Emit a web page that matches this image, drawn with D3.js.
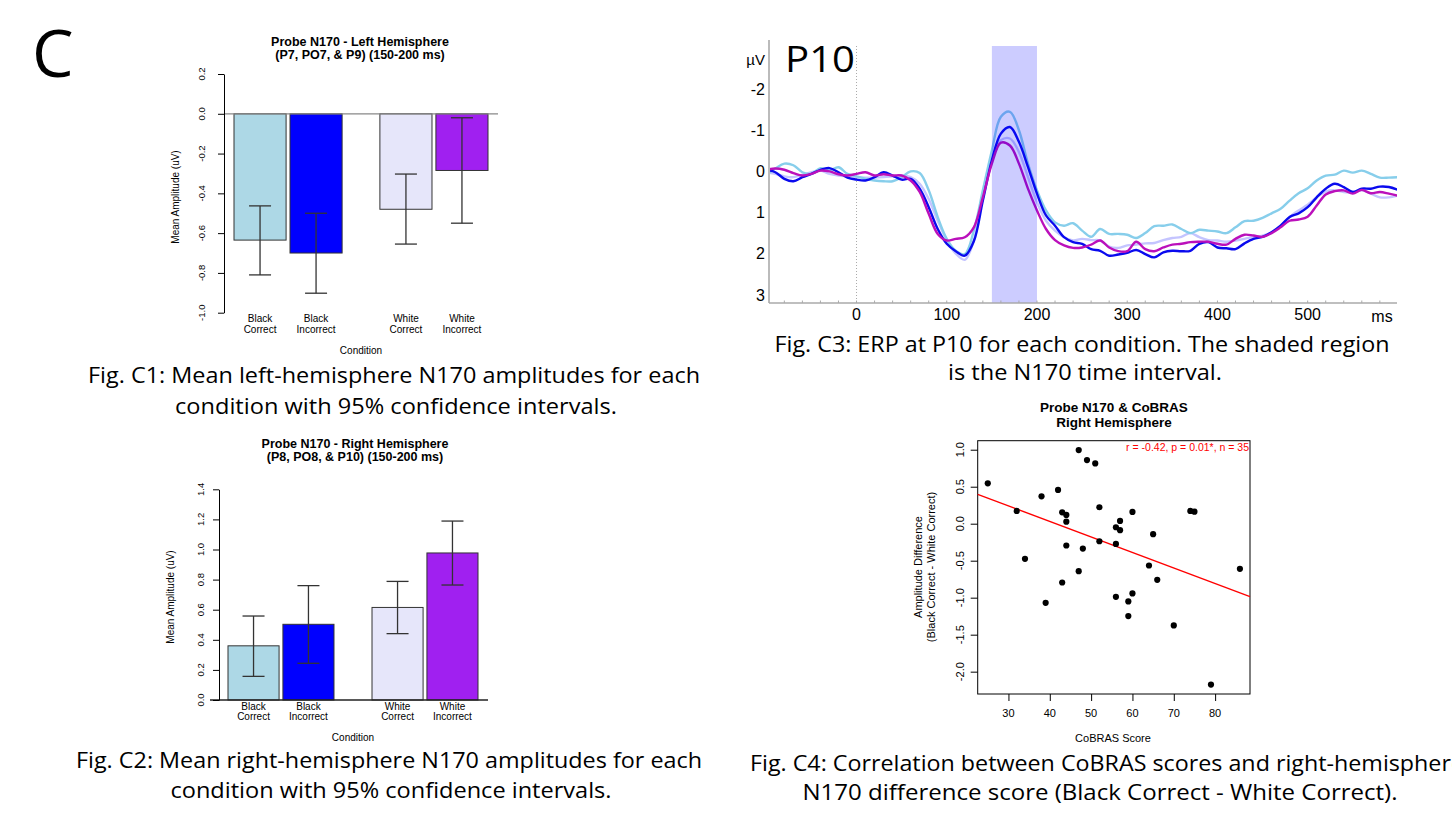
<!DOCTYPE html>
<html>
<head>
<meta charset="utf-8">
<script src="https://cdn.jsdelivr.net/npm/d3@7"></script>
<style>
  body { margin: 0; background: #fff; overflow: hidden; }
  svg { display: block; }
</style>
</head>
<body>
<svg id="fig" width="1452" height="814"></svg>
<script>
// ---- data ----
const conditions = ["Black Correct", "Black Incorrect", "White Correct", "White Incorrect"];
const groups = ["Black", "White"];
const subs = ["Correct", "Incorrect"];
const barColors = ["#ADD8E6", "#0000FF", "#E6E6FA", "#A020F0"];

// C1: left hemisphere
const leftMeans = [-0.635, -0.700, -0.480, -0.285];
const leftLower = [-0.810, -0.902, -0.655, -0.550];
const leftUpper = [-0.463, -0.500, -0.303, -0.020];
const leftTicks = [0.2, 0.0, -0.2, -0.4, -0.6, -0.8, -1.0];

// C2: right hemisphere
const rightMeans = [0.360, 0.503, 0.615, 0.977];
const rightLower = [0.157, 0.244, 0.441, 0.764];
const rightUpper = [0.558, 0.760, 0.788, 1.189];
const rightTicks = [0.0, 0.2, 0.4, 0.6, 0.8, 1.0, 1.2, 1.4];

// C3: ERP at P10, sampled every 10 ms from -100 to 600
const erpTimes = d3.range(-100, 601, 10);
const erpBC = [0.08, -0.07, -0.19, -0.15, 0.02, 0.06, -0.08, -0.02, -0.10, 0.06,
  0.12, 0.18, 0.22, 0.24, 0.24, 0.14, 0.00, 0.04, 0.46, 1.11,
  1.64, 1.93, 2.01, 1.44, 0.46, -0.51, -1.33, -1.45, -1.00, -0.19,
  0.46, 0.95, 1.24, 1.32, 1.26, 1.44, 1.59, 1.40, 1.52, 1.52,
  1.54, 1.62, 1.50, 1.33, 1.32, 1.29, 1.40, 1.50, 1.42, 1.44,
  1.46, 1.50, 1.36, 1.21, 1.20, 1.13, 1.02, 0.91, 0.71, 0.53,
  0.41, 0.22, 0.10, 0.08, -0.02, 0.03, -0.02, 0.06, 0.15, 0.15, 0.14];
const erpBI = [-0.04, 0.02, 0.18, 0.24, 0.14, 0.06, -0.04, -0.08, 0.02, 0.15,
  0.20, 0.22, 0.14, 0.02, 0.10, 0.20, 0.18, 0.42, 0.87, 1.40,
  1.76, 1.94, 2.05, 1.70, 0.71, -0.27, -0.92, -1.08, -0.72, -0.11,
  0.54, 1.07, 1.32, 1.60, 1.72, 1.76, 1.89, 1.93, 2.05, 2.02,
  1.98, 1.91, 2.01, 2.09, 1.97, 1.93, 1.94, 1.93, 1.76, 1.72,
  1.85, 1.87, 1.89, 1.75, 1.64, 1.59, 1.48, 1.32, 1.11, 1.02,
  0.87, 0.63, 0.42, 0.30, 0.38, 0.50, 0.42, 0.42, 0.37, 0.38, 0.45];
const erpWC = [0.02, 0.06, 0.12, 0.14, 0.08, 0.02, -0.02, 0.06, 0.10, 0.12,
  0.14, 0.15, 0.15, 0.14, 0.12, 0.10, 0.14, 0.30, 0.67, 1.20,
  1.67, 2.00, 2.15, 1.68, 0.63, -0.31, -0.76, -0.80, -0.47, 0.14,
  0.75, 1.20, 1.44, 1.60, 1.68, 1.64, 1.67, 1.68, 1.83, 1.86,
  1.80, 1.78, 1.75, 1.74, 1.67, 1.62, 1.59, 1.50, 1.60, 1.67,
  1.68, 1.71, 1.68, 1.64, 1.59, 1.56, 1.48, 1.32, 1.11, 0.95,
  0.81, 0.63, 0.49, 0.46, 0.50, 0.50, 0.46, 0.54, 0.63, 0.63, 0.59];
const erpWI = [-0.04, -0.07, -0.04, 0.04, 0.10, 0.06, -0.02, 0.00, 0.07, 0.10,
  0.06, 0.02, 0.10, 0.07, 0.10, 0.10, 0.22, 0.50, 1.03, 1.52,
  1.68, 1.64, 1.60, 1.36, 0.63, -0.19, -0.70, -0.63, -0.19, 0.42,
  0.95, 1.40, 1.67, 1.80, 1.86, 1.85, 1.78, 1.68, 1.85, 1.94,
  1.94, 1.71, 1.89, 1.94, 1.85, 1.78, 1.76, 1.72, 1.71, 1.71,
  1.76, 1.78, 1.64, 1.54, 1.56, 1.59, 1.50, 1.36, 1.20, 1.17,
  1.10, 0.83, 0.56, 0.48, 0.46, 0.54, 0.45, 0.53, 0.50, 0.54, 0.59];
const erpColors = ["#87CEEB", "#0A0AEE", "#C4C4FF", "#BB10BB"];
const erpXTicks = [0, 100, 200, 300, 400, 500];
const erpYTicks = [-2, -1, 0, 1, 2, 3];
const n170Window = [150, 200];

// C4: CoBRAS vs amplitude difference
const cobras = [25, 32, 34, 38, 39, 42, 43, 44, 44, 44, 43, 47, 49, 51, 48, 47, 52, 52,
  56, 56, 57, 57, 56, 60, 60, 59, 59, 64, 65, 66, 70, 74, 75, 79, 86];
const ampDiff = [0.546, 0.172, -0.475, 0.370, -1.070, 0.456, 0.154, 0.118, 0.028, -0.295,
  -0.795, 0.995, 0.860, 0.815, -0.336, -0.642, 0.222, -0.237, -0.048, -0.273,
  0.037, -0.088, -0.988, 0.159, -0.943, -1.050, -1.249, -0.565, -0.142, -0.759,
  -1.375, 0.172, 0.163, -2.175, -0.610];
const scatterXTicks = [30, 40, 50, 60, 70, 80];
const scatterYTicks = [1.0, 0.5, 0.0, -0.5, -1.0, -1.5, -2.0];

const svg = d3.select("#fig");
const rfont = "'Liberation Sans', Arial, sans-serif";
const cfont = "'Open Sans', 'Noto Sans', sans-serif";
const fmt1 = d => d.toFixed(1);

// rotated text helper (reads bottom-to-top)
function vtext(x, y, str, size) {
  return svg.append("text")
    .attr("transform", `translate(${x},${y}) rotate(-90)`)
    .attr("text-anchor", "middle")
    .style("font-family", rfont)
    .style("font-size", size + "px")
    .text(str);
}

function caption(lines) {
  lines.forEach(l => {
    svg.append("text")
      .attr("x", l.x).attr("y", l.y)
      .attr("text-anchor", l.anchor || "middle")
      .attr("textLength", l.w)
      .attr("lengthAdjust", "spacingAndGlyphs")
      .style("font-family", cfont)
      .style("font-size", "21.5px")
      .text(l.t);
  });
}

// ---- bar charts (C1, C2) ----
function barChart(cfg) {
  const g = svg.append("g");
  const y = d3.scaleLinear().domain(cfg.yDomain).range(cfg.yRange);
  const x0 = d3.scaleBand().domain(groups).range(cfg.xRange).paddingInner(cfg.groupPad);
  const x1 = d3.scaleBand().domain(subs).range([0, x0.bandwidth()]).paddingInner(0.07);
  const rows = conditions.map((c, i) => ({
    group: c.split(" ")[0], sub: c.split(" ")[1], label: c,
    mean: cfg.means[i], lo: cfg.lower[i], hi: cfg.upper[i], color: barColors[i]
  }));
  const xl = d => x0(d.group) + x1(d.sub);
  const xm = d => xl(d) + x1.bandwidth() / 2;

  g.selectAll("rect.bar").data(rows).enter().append("rect")
    .attr("class", "bar")
    .attr("x", xl)
    .attr("width", x1.bandwidth())
    .attr("y", d => Math.min(y(0), y(d.mean)))
    .attr("height", d => Math.abs(y(d.mean) - y(0)))
    .attr("fill", d => d.color)
    .attr("stroke", "#333")
    .attr("stroke-width", 1);

  g.append("line")
    .attr("x1", cfg.zeroLine[0]).attr("x2", cfg.zeroLine[1])
    .attr("y1", y(0)).attr("y2", y(0))
    .attr("stroke", cfg.zeroColor).attr("stroke-width", 1.3);

  const eb = g.selectAll("g.err").data(rows).enter().append("g")
    .attr("stroke", "#333").attr("stroke-width", 1.3);
  eb.append("line").attr("x1", xm).attr("x2", xm)
    .attr("y1", d => y(d.lo)).attr("y2", d => y(d.hi));
  eb.append("line").attr("x1", d => xm(d) - 11).attr("x2", d => xm(d) + 11)
    .attr("y1", d => y(d.lo)).attr("y2", d => y(d.lo));
  eb.append("line").attr("x1", d => xm(d) - 11).attr("x2", d => xm(d) + 11)
    .attr("y1", d => y(d.hi)).attr("y2", d => y(d.hi));

  const ax = g.append("g")
    .attr("transform", `translate(${cfg.axisX},0)`)
    .call(d3.axisLeft(y).tickValues(cfg.ticks).tickSize(6).tickSizeOuter(0).tickFormat(""));
  ax.selectAll("path, line").attr("stroke", "#000");
  cfg.ticks.forEach(t => vtext(cfg.tickLabelX, y(t), fmt1(t), 9.5));

  rows.forEach(d => {
    const parts = d.label.split(" ");
    parts.forEach((p, j) => {
      g.append("text")
        .attr("x", xm(d)).attr("y", cfg.catY + j * 10.5)
        .attr("text-anchor", "middle")
        .style("font-family", rfont).style("font-size", "10px")
        .text(p);
    });
  });

  const cx = (cfg.xRange[0] + cfg.xRange[1]) / 2;
  g.append("text").attr("x", cx).attr("y", cfg.condY)
    .attr("text-anchor", "middle")
    .style("font-family", rfont).style("font-size", "10px")
    .text("Condition");

  cfg.title.forEach((t, j) => {
    g.append("text").attr("x", cfg.titleX).attr("y", cfg.titleY + j * 12.5)
      .attr("text-anchor", "middle")
      .style("font-family", rfont).style("font-size", "12.5px").style("font-weight", "bold")
      .text(t);
  });
  vtext(cfg.yLabelX, cfg.yLabelY, "Mean Amplitude (uV)", 10);
}

barChart({
  means: leftMeans, lower: leftLower, upper: leftUpper, ticks: leftTicks,
  yDomain: [-1.0, 0.2], yRange: [312.7, 74],
  xRange: [234, 488], groupPad: 0.259,
  zeroLine: [224, 498], zeroColor: "#888",
  axisX: 224, tickLabelX: 205, catY: 322, condY: 354,
  title: ["Probe N170 - Left Hemisphere", "(P7, PO7, & P9) (150-200 ms)"],
  titleX: 360, titleY: 46,
  yLabelX: 179, yLabelY: 197
});

barChart({
  means: rightMeans, lower: rightLower, upper: rightUpper, ticks: rightTicks,
  yDomain: [0, 1.4], yRange: [700, 489.3],
  xRange: [228, 478], groupPad: 0.264,
  zeroLine: [210, 488], zeroColor: "#222",
  axisX: 219, tickLabelX: 204, catY: 709.5, condY: 741,
  title: ["Probe N170 - Right Hemisphere", "(P8, PO8, & P10) (150-200 ms)"],
  titleX: 355, titleY: 448,
  yLabelX: 174, yLabelY: 597
});

// ---- ERP (C3) ----
(function () {
  const left = 769, right = 1397, top = 46, bottom = 303;
  const x = d3.scaleLinear().domain([-97, 599]).range([left, right]);
  const y = d3.scaleLinear().domain([-3.05, 3.2]).range([top, bottom]);
  const g = svg.append("g");

  svg.append("clipPath").attr("id", "erpClip").append("rect")
    .attr("x", left).attr("y", top - 10).attr("width", right - left).attr("height", bottom - top + 10);

  // zero-time dotted line
  g.append("line").attr("x1", x(0)).attr("x2", x(0)).attr("y1", top).attr("y2", bottom)
    .attr("stroke", "#aaa").attr("stroke-dasharray", "1,2");

  const series = [erpWC, erpBC, erpBI, erpWI];
  const cols = [erpColors[2], erpColors[0], erpColors[1], erpColors[3]];
  const line = d3.line().x((d, i) => x(erpTimes[i])).y(d => y(d)).curve(d3.curveCatmullRom.alpha(0.5));
  const lg = g.append("g").attr("clip-path", "url(#erpClip)");
  series.forEach((s, k) => {
    lg.append("path").datum(s).attr("d", line)
      .attr("fill", "none").attr("stroke", cols[k]).attr("stroke-width", 2.4)
      .attr("stroke-linejoin", "round");
  });

  // N170 window shading
  g.append("rect")
    .attr("x", x(n170Window[0])).attr("width", x(n170Window[1]) - x(n170Window[0]))
    .attr("y", top).attr("height", bottom - top)
    .attr("fill", "rgba(0,0,255,0.2)");

  // axes
  g.append("line").attr("x1", left).attr("x2", left).attr("y1", 40).attr("y2", bottom)
    .attr("stroke", "#bbb").attr("stroke-width", 2);
  g.append("line").attr("x1", left).attr("x2", right).attr("y1", bottom).attr("y2", bottom)
    .attr("stroke", "#aaa").attr("stroke-width", 1.5);
  g.selectAll("line.minor").data(d3.range(-80, 600, 20)).enter().append("line")
    .attr("x1", d => x(d)).attr("x2", d => x(d)).attr("y1", bottom).attr("y2", bottom - 2.5)
    .attr("stroke", "#aaa");

  g.selectAll("text.xt").data(erpXTicks).enter().append("text")
    .attr("x", d => x(d)).attr("y", 320).attr("text-anchor", "middle")
    .style("font-family", rfont).style("font-size", "16px").text(d => d);
  g.selectAll("text.yt").data(erpYTicks).enter().append("text")
    .attr("x", 765).attr("y", d => y(d)).attr("dy", "0.36em").attr("text-anchor", "end")
    .style("font-family", rfont).style("font-size", "16px").text(d => d);
  g.append("text").attr("x", 1382).attr("y", 322).attr("text-anchor", "middle")
    .style("font-family", rfont).style("font-size", "16px").text("ms");
  g.append("text").attr("x", 765).attr("y", 65).attr("text-anchor", "end")
    .style("font-family", rfont).style("font-size", "15px").text("µV");
  g.append("text").attr("x", 785).attr("y", 72)
    .attr("textLength", 70).attr("lengthAdjust", "spacingAndGlyphs")
    .style("font-family", cfont).style("font-size", "36px").text("P10");
})();

// ---- scatter (C4) ----
(function () {
  const left = 977.7, right = 1250, top = 440.7, bottom = 694;
  const ext = (a) => { const e = d3.extent(a), p = (e[1] - e[0]) * 0.04; return [e[0] - p, e[1] + p]; };
  const x = d3.scaleLinear().domain(ext(cobras)).range([left, right]);
  const y = d3.scaleLinear().domain(ext(ampDiff)).range([bottom, top]);
  const g = svg.append("g");

  g.append("rect").attr("x", left).attr("y", top).attr("width", right - left).attr("height", bottom - top)
    .attr("fill", "none").attr("stroke", "#000").attr("stroke-width", 1);

  g.append("g").attr("transform", `translate(0,${bottom})`)
    .call(d3.axisBottom(x).tickValues(scatterXTicks).tickSize(7).tickSizeOuter(0).tickFormat(""))
    .call(a => a.select(".domain").remove());
  g.append("g").attr("transform", `translate(${left},0)`)
    .call(d3.axisLeft(y).tickValues(scatterYTicks).tickSize(7).tickSizeOuter(0).tickFormat(""))
    .call(a => a.select(".domain").remove());

  g.selectAll("text.xt").data(scatterXTicks).enter().append("text")
    .attr("x", d => x(d)).attr("y", 717).attr("text-anchor", "middle")
    .style("font-family", rfont).style("font-size", "11px").text(d => d);
  scatterYTicks.forEach(t => vtext(963.5, y(t), fmt1(t), 11));

  // least-squares fit
  const mx = d3.mean(cobras), my = d3.mean(ampDiff);
  const b = d3.sum(cobras, (v, i) => (v - mx) * (ampDiff[i] - my)) / d3.sum(cobras, v => (v - mx) ** 2);
  const a0 = my - b * mx;
  const [dx0, dx1] = x.domain();
  g.append("line").attr("x1", x(dx0)).attr("x2", x(dx1))
    .attr("y1", y(a0 + b * dx0)).attr("y2", y(a0 + b * dx1))
    .attr("stroke", "#FF0000").attr("stroke-width", 1.3);

  g.selectAll("circle").data(cobras).enter().append("circle")
    .attr("cx", d => x(d)).attr("cy", (d, i) => y(ampDiff[i])).attr("r", 3.1).attr("fill", "#000");

  g.append("text").attr("x", 1249).attr("y", 451).attr("text-anchor", "end")
    .attr("fill", "#FF0000")
    .style("font-family", rfont).style("font-size", "10.5px")
    .text("r = -0.42, p = 0.01*, n = 35");

  ["Probe N170 & CoBRAS", "Right Hemisphere"].forEach((t, j) => {
    g.append("text").attr("x", 1114).attr("y", 412 + j * 14.7).attr("text-anchor", "middle")
      .style("font-family", rfont).style("font-size", "13.5px").style("font-weight", "bold").text(t);
  });
  g.append("text").attr("x", 1113).attr("y", 742).attr("text-anchor", "middle")
    .style("font-family", rfont).style("font-size", "11px").text("CoBRAS Score");
  vtext(921.5, 567, "Amplitude Difference", 11);
  vtext(935, 567, "(Black Correct - White Correct)", 11);
})();

// ---- panel letter and captions ----
svg.append("text").attr("x", 32).attr("y", 77)
  .style("font-family", cfont).style("font-size", "66px").text("C");

caption([
  { t: "Fig. C1: Mean left-hemisphere N170 amplitudes for each", x: 394, y: 383, w: 612 },
  { t: "condition with 95% confidence intervals.", x: 396, y: 414, w: 442 },
  { t: "Fig. C2: Mean right-hemisphere N170 amplitudes for each", x: 389, y: 768, w: 626 },
  { t: "condition with 95% confidence intervals.", x: 391, y: 798, w: 441 },
  { t: "Fig. C3: ERP at P10 for each condition. The shaded region", x: 1082, y: 352, w: 615 },
  { t: "is the N170 time interval.", x: 1085, y: 380, w: 274 },
  { t: "Fig. C4: Correlation between CoBRAS scores and right-hemisphere", x: 750, y: 771, w: 714, anchor: "start" },
  { t: "N170 difference score (Black Correct - White Correct).", x: 1100, y: 800, w: 595 }
]);
</script>
</body>
</html>
